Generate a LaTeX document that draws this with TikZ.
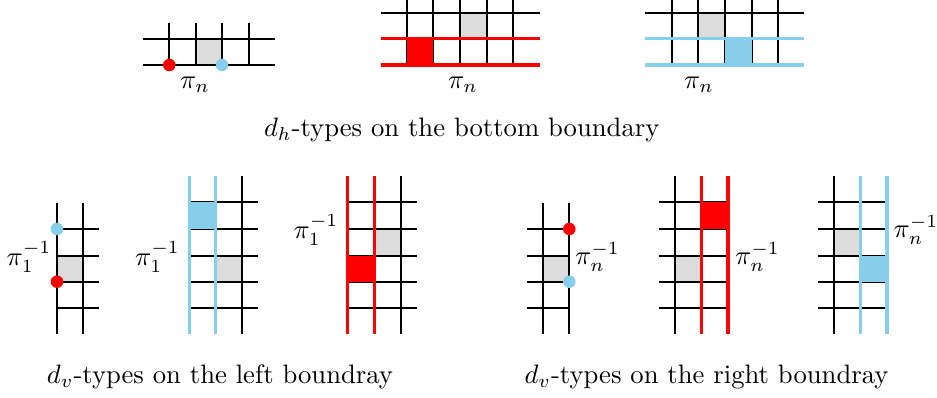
\documentclass[tikz,border=0pt]{standalone}
\definecolor{sky}{RGB}{135,206,235}
\definecolor{cellgray}{RGB}{220,220,220}
\tikzset{
  gl/.style={line width=0.75pt,black},
  rl/.style={line width=1.3pt,red},
  bl/.style={line width=1.3pt,sky},
  dot/.style={circle,inner sep=0pt,minimum size=4.7pt},
  lab/.style={inner sep=0pt}
}
\begin{document}
\begin{tikzpicture}[x=0.375pt,y=-0.375pt]
\useasboundingbox (0,0) rectangle (937,397);
% ---------- top row ----------
% diagram 1
\fill[cellgray] (195.7,38.6) rectangle (222,65);
\foreach \x in {169.3,195.7,222,248.5} \draw[gl] (\x,23) -- (\x,65);
\foreach \y in {38.6,65} \draw[gl] (143,\y) -- (275,\y);
\node[dot,fill=red] (d1r) at (169.3,65) {};
\node[dot,fill=sky] (d1b) at (222,65) {};
\node[lab] (l1) at (195,85) {$\pi_n$};
% diagram 2
\fill[cellgray] (460,12.7) rectangle (486.7,38.3);
\foreach \x in {406.7,433.3,460,486.7,513.3} \draw[gl] (\x,0) -- (\x,65);
\draw[gl] (381,12.7) -- (540,12.7);
\fill[red] (406.7,38.3) rectangle (433.3,65);
\draw[rl] (381,38.3) -- (540,38.3);
\draw[rl] (381,65) -- (540,65);
\node[lab] (l2) at (463,85) {$\pi_n$};
% diagram 3
\fill[cellgray] (698.3,12.7) rectangle (725,38.3);
\foreach \x in {671.7,698.3,725,751.7,778.3} \draw[gl] (\x,0) -- (\x,65);
\draw[gl] (645,12.7) -- (804,12.7);
\fill[sky] (725,38.3) rectangle (751.7,65);
\draw[bl] (645,38.3) -- (804,38.3);
\draw[bl] (645,65) -- (804,65);
\node[lab] (l3) at (699,85) {$\pi_n$};
\node[lab] (c1) at (461.7,130) {$d_h$-types on the bottom boundary};
% ---------- bottom row ----------
% diagram 4
\fill[cellgray] (57,255.7) rectangle (83.3,281.7);
\foreach \x in {57,83.3} \draw[gl] (\x,202.7) -- (\x,334);
\foreach \y in {229,255.7,281.7,308} \draw[gl] (57,\y) -- (99,\y);
\node[dot,fill=sky] (d4b) at (57,229) {};
\node[dot,fill=red] (d4r) at (57,281.7) {};
\node[lab] (l4) at (29,257) {$\pi_1^{-1}$};
% diagram 5
\fill[cellgray] (215.7,255.7) rectangle (242,281.7);
\draw[gl] (242,176) -- (242,334);
\foreach \y in {202.3,229,255.7,281.7,308} \draw[gl] (189.3,\y) -- (257.7,\y);
\fill[sky] (189.3,202.3) rectangle (215.7,229);
\foreach \x in {189.3,215.7} \draw[bl] (\x,176) -- (\x,334);
\node[lab] (l5) at (157.5,257) {$\pi_1^{-1}$};
% diagram 6
\fill[cellgray] (374.7,229) rectangle (400.7,255.7);
\draw[gl] (400.7,176) -- (400.7,334);
\foreach \y in {202.3,229,255.7,281.7,308} \draw[gl] (347.7,\y) -- (416.7,\y);
\fill[red] (347.7,255.7) rectangle (374.7,281.7);
\foreach \x in {347.7,374.7} \draw[rl] (\x,176) -- (\x,334);
\node[lab] (l6) at (316,230) {$\pi_1^{-1}$};
\node[lab] (c2) at (220,377) {$d_v$-types on the left boundray};
% diagram 7
\fill[cellgray] (542.7,255.7) rectangle (569.3,281.7);
\foreach \x in {542.7,569.3} \draw[gl] (\x,202.7) -- (\x,334);
\foreach \y in {229,255.7,281.7,308} \draw[gl] (526.7,\y) -- (569.3,\y);
\node[dot,fill=red] (d7r) at (569.3,229) {};
\node[dot,fill=sky] (d7b) at (569.3,281.7) {};
\node[lab] (l7) at (597.5,257) {$\pi_n^{-1}$};
% diagram 8
\fill[cellgray] (675,255.7) rectangle (701.3,281.7);
\draw[gl] (675,176) -- (675,334);
\foreach \y in {202.3,229,255.7,281.7,308} \draw[gl] (659.3,\y) -- (728,\y);
\fill[red] (701.3,202.3) rectangle (728,229);
\foreach \x in {701.3,728} \draw[rl] (\x,176) -- (\x,334);
\node[lab] (l8) at (757.5,257) {$\pi_n^{-1}$};
% diagram 9
\fill[cellgray] (833.7,229) rectangle (860.3,255.7);
\draw[gl] (833.7,176) -- (833.7,334);
\foreach \y in {202.3,229,255.7,281.7,308} \draw[gl] (818.3,\y) -- (887,\y);
\fill[sky] (860.3,255.7) rectangle (887,281.7);
\foreach \x in {860.3,887} \draw[bl] (\x,176) -- (\x,334);
\node[lab] (l9) at (916,230) {$\pi_n^{-1}$};
\node[lab] (c3) at (706.5,377) {$d_v$-types on the right boundray};
\end{tikzpicture}
\end{document}
